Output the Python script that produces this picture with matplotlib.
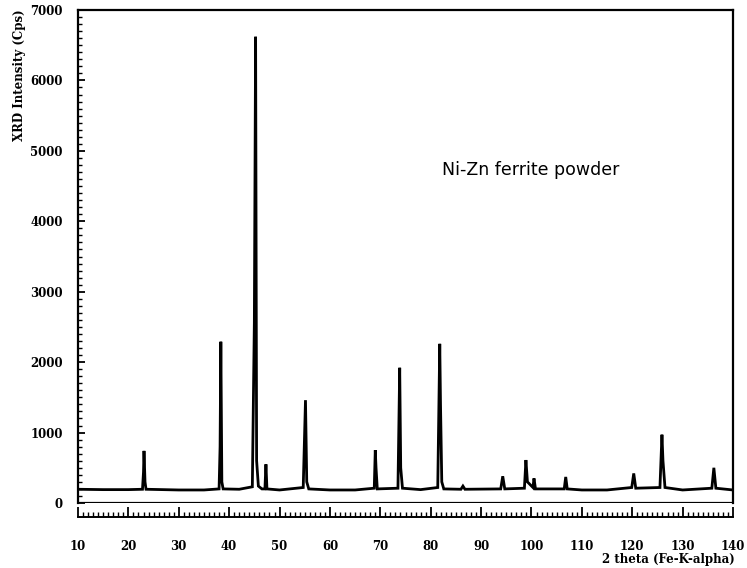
import matplotlib
matplotlib.use("Agg")
import matplotlib.pyplot as plt
from matplotlib.ticker import MultipleLocator

# Polyline vertices of the XRD pattern
two_theta = [10.0, 15.0, 20.0, 22.8, 23.0, 23.1, 23.3, 23.5, 30.0, 35.0,
             38.0, 38.2, 38.35, 38.55, 38.8, 42.0, 44.6, 45.0, 45.25, 45.45,
             45.8, 46.5, 47.1, 47.3, 47.5, 50.0, 54.7, 55.15, 55.4, 55.8,
             60.0, 65.0, 68.8, 69.0, 69.15, 69.4, 73.5, 73.85, 74.05, 74.4,
             78.0, 81.4, 81.8, 81.95, 82.2, 82.6, 86.0, 86.4, 86.8, 93.9,
             94.3, 94.7, 98.6, 98.9, 99.2, 100.3, 100.5, 100.8, 106.5, 106.8,
             107.1, 110.0, 115.0, 119.9, 120.3, 120.7, 125.5, 125.9, 126.1, 126.5,
             130.0, 135.8, 136.2, 136.6, 140.0]
intensity = [195, 190, 190, 195, 440, 740, 300, 195, 185, 185,
             200, 800, 2290, 300, 200, 195, 230, 2560, 6620, 600,
             240, 200, 200, 550, 200, 185, 220, 1460, 300, 200,
             185, 185, 210, 750, 500, 200, 210, 1920, 500, 210,
             190, 220, 2260, 1390, 300, 200, 195, 240, 195, 200,
             380, 200, 210, 610, 300, 220, 350, 200, 200, 370,
             200, 185, 185, 220, 420, 210, 220, 970, 600, 220,
             185, 210, 500, 210, 185]

y_ticks = [0, 1000, 2000, 3000, 4000, 5000, 6000, 7000]
x_ticks = [10, 20, 30, 40, 50, 60, 70, 80, 90, 100, 110, 120, 130, 140]

fig = plt.figure(figsize=(7.47, 5.68), dpi=100)
ax = fig.add_axes([78/747, 1-503/568, (733-78)/747, (503-10)/568])

ax.plot(two_theta, intensity, color="black", lw=2.0, solid_joinstyle="miter")
ax.axhline(0, color="black", lw=1.6)

ax.set_xlim(10, 140)
ax.set_ylim(0, 7000)

for s in ["top", "left", "right"]:
    ax.spines[s].set_linewidth(1.6)
ax.spines["bottom"].set_position(("outward", 10))
ax.spines["bottom"].set_linewidth(1.4)

ax.set_xticks(x_ticks)
ax.set_yticks(y_ticks)
ax.xaxis.set_minor_locator(MultipleLocator(1))
ax.yaxis.set_minor_locator(MultipleLocator(100))

tfont = dict(family="DejaVu Serif", weight="bold", size=8.5)
ax.set_xticklabels([str(v) for v in x_ticks], **tfont)
ax.set_yticklabels([str(v) for v in y_ticks], **tfont)

ax.tick_params(axis="x", which="major", direction="in", length=7, width=1.3, pad=17)
ax.tick_params(axis="x", which="minor", direction="in", length=3.5, width=1.0)
ax.tick_params(axis="y", which="major", direction="in", length=5, width=1.3, pad=11)
ax.tick_params(axis="y", which="minor", direction="in", length=3, width=1.0)
ax.tick_params(top=False, right=False, which="both")

fig.text(735/747, 1-566/568, "2 theta (Fe-K-alpha)", ha="right", va="bottom",
         family="DejaVu Serif", weight="bold", size=8.5)
fig.text(20/747, 1-75/568, "XRD Intensity (Cps)", ha="center", va="center",
         rotation=90, family="DejaVu Serif", weight="bold", size=8.5)

ax.text(82.2, 4730, "Ni-Zn ferrite powder", ha="left", va="center",
        family="DejaVu Sans", size=12.5)

fig.savefig("out.png", dpi=100)
